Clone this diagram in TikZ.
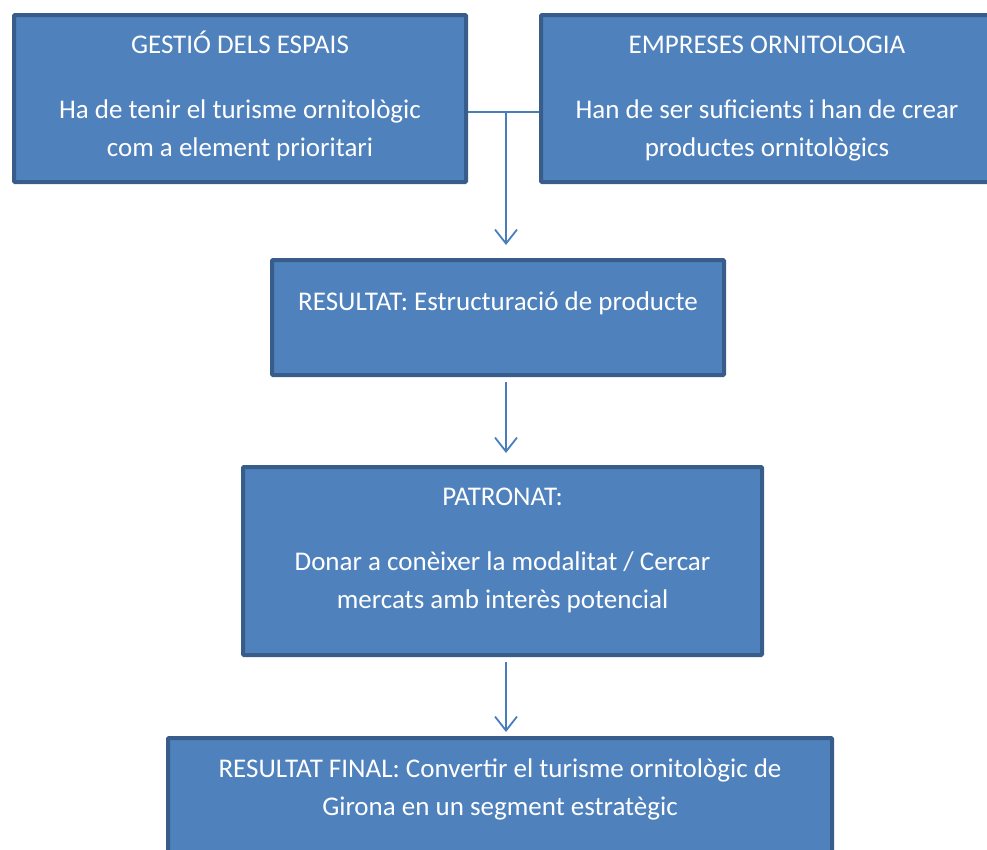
\documentclass[tikz,border=0pt]{standalone}
\usepackage{fontspec}
\setmainfont{Carlito}
\usetikzlibrary{arrows.meta}
\definecolor{boxfill}{HTML}{4F81BD}
\definecolor{boxline}{HTML}{385D8A}
\definecolor{linkcol}{HTML}{4A7EBB}
\tikzset{
  box/.style={draw=boxline,fill=boxfill,line width=4pt,rounded corners=1pt,inner sep=0pt},
  txt/.style={text=white,anchor=base,align=center,font=\fontsize{27}{38}\selectfont},
  link/.style={draw=linkcol,line width=1.8pt},
  arrow/.style={link,-{Straight Barb[length=14pt,width=22pt,line width=1.8pt]}}
}
\begin{document}
\begin{tikzpicture}[x=1pt,y=-1pt]
	\useasboundingbox (0,0) rectangle (987,849);
	\clip (0,0) rectangle (987,849);
	% boxes
	\node[box,minimum width=452pt,minimum height=167pt] (gestio) at (240,98.5) {};
	\node[box,minimum width=454pt,minimum height=167pt] (empreses) at (768,98.5) {};
	\node[box,minimum width=452pt,minimum height=115pt] (resultat) at (498,317.5) {};
	\node[box,minimum width=519pt,minimum height=188pt] (patronat) at (502.5,561) {};
	\node[box,minimum width=664pt,minimum height=132pt] (final) at (500,804) {};
	% texts (base = last line)
	\node[txt] (gestiotitle) at (240,53) {GESTIÓ DELS ESPAIS};
	\node[txt] (gestiotext) at (240,156) {Ha de tenir el turisme ornitològic\\com a element prioritari};
	\node[txt] (emprestitle) at (767,53) {EMPRESES ORNITOLOGIA};
	\node[txt] (emprestext) at (767,156) {Han de ser suficients i han de crear\\productes ornitològics};
	\node[txt] (resultattext) at (498,310) {RESULTAT: Estructuració de producte};
	\node[txt] (patronattitle) at (502.5,505) {PATRONAT:};
	\node[txt] (patronattext) at (502.5,608) {Donar a conèixer la modalitat / Cercar\\mercats amb interès potencial};
	\node[txt] (finaltext) at (500,815) {RESULTAT FINAL: Convertir el turisme ornitològic de\\Girona en un segment estratègic};
	% connectors
	\coordinate (junc) at (506,112);
	\draw[link] (junc -| gestio.east) -- (junc -| empreses.west);
	\draw[arrow,shorten >=13pt] (junc) -- (junc |- resultat.north);
	\draw[arrow,shorten <=5pt,shorten >=12pt] (resultat.south -| junc) -- (patronat.north -| junc);
	\draw[arrow,shorten <=5pt,shorten >=4pt] (patronat.south -| junc) -- (final.north -| junc);
\end{tikzpicture}
\end{document}
